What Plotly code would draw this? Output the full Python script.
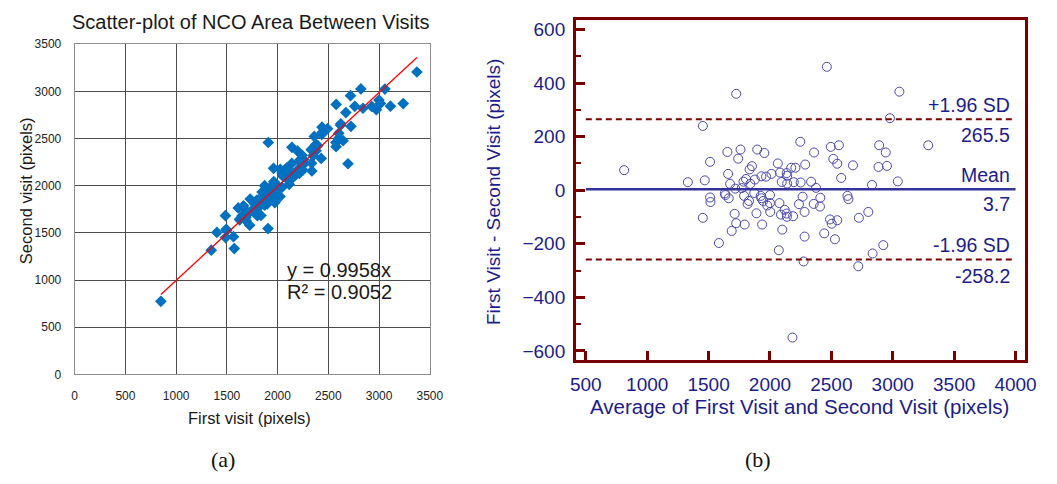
import plotly.graph_objects as go

# Bland-Altman points: average of the two visits, and difference
ba_average = [812, 1331, 1453, 1469, 1453, 1512, 1512, 1515, 1584, 1632,
              1637, 1653, 1659, 1664, 1675, 1688, 1712, 1717, 1725, 1725,
              1741, 1760, 1770, 1784, 1789, 1794, 1805, 1818, 1829, 1834,
              1840, 1853, 1872, 1877, 1890, 1896, 1925, 1930, 1930, 1936,
              1944, 1954, 1968, 1978, 2000, 2000, 2002, 2012, 2064, 2072,
              2077, 2082, 2090, 2096, 2100, 2120, 2136, 2136, 2138, 2140,
              2140, 2173, 2183, 2188, 2194, 2207, 2236, 2247, 2250, 2266,
              2274, 2282, 2282, 2287, 2335, 2356, 2359, 2375, 2407, 2410,
              2442, 2463, 2489, 2495, 2503, 2516, 2529, 2548, 2548, 2561,
              2580, 2631, 2639, 2676, 2719, 2724, 2801, 2831, 2836, 2884,
              2889, 2923, 2943, 2953, 2977, 3041, 3054, 3289]
ba_difference = [75, 30, 240, 37, -103, 106, -27, -44, -197, -12,
                 -18, 143, 61, -30, 24, -152, -88, 6, 360, -123,
                 118, 152, 8, 32, -21, -128, 42, -51, -40, 78,
                 24, 90, -10, 40, -86, 152, -21, 52, -30, -128,
                 -40, 139, 51, -57, -18, -48, -81, 61, 100, -224,
                 -48, 66, -91, 31, -147, -73, 64, -87, -99, 25,
                 54, 84, -550, -97, 30, 84, -52, 181, 29, -24,
                 -266, -81, -173, 96, 32, -51, 141, 9, -61, -28,
                 -161, 461, -109, 162, -125, 117, -183, 99, -112, 168,
                 46, -21, -33, 93, -284, -103, -81, 20, -236, 87,
                 168, -205, 141, 91, 269, 33, 368, 168]

# Same measurements shown as first visit vs second visit in panel (a)
first_visit = [a + d / 2 for a, d in zip(ba_average, ba_difference)]
second_visit = [a - d / 2 for a, d in zip(ba_average, ba_difference)]

trend_slope = 0.9958
trend_r2 = 0.9052
mean_diff = 3.7
upper_loa = 265.5
lower_loa = -258.2

left_ticks = [0, 500, 1000, 1500, 2000, 2500, 3000, 3500]
right_xticks = [500, 1000, 1500, 2000, 2500, 3000, 3500, 4000]
right_yticks = [-600, -400, -200, 0, 200, 400, 600]

W, H = 1057, 484


def px(x):
    return x / W


def py(y):
    return 1 - y / H


SANS = "Liberation Sans, Arial, sans-serif"
NAVY = "#1c1c8a"
DARKRED = "#7a0000"

fig = go.Figure()

# ---------- panel (a) ----------
fig.add_trace(go.Scatter(
    x=first_visit, y=second_visit, mode="markers",
    marker=dict(symbol="diamond", size=9, color="#0070C0"),
    xaxis="x", yaxis="y", showlegend=False, hoverinfo="x+y"))
trend_x = [min(first_visit), max(first_visit)]
fig.add_trace(go.Scatter(
    x=trend_x, y=[trend_slope * v for v in trend_x], mode="lines",
    line=dict(color="#ff0000", width=1.3),
    xaxis="x", yaxis="y", showlegend=False))

# ---------- panel (b) ----------
fig.add_trace(go.Scatter(
    x=ba_average, y=ba_difference, mode="markers",
    marker=dict(symbol="circle-open", size=9, color="#4a4aae", line=dict(width=1)),
    xaxis="x2", yaxis="y2", showlegend=False))
line_x = [right_xticks[0], right_xticks[-1]]
fig.add_trace(go.Scatter(
    x=line_x, y=[upper_loa, upper_loa], mode="lines",
    line=dict(color=DARKRED, width=2, dash="6px,4px"),
    xaxis="x2", yaxis="y2", showlegend=False))
fig.add_trace(go.Scatter(
    x=line_x, y=[lower_loa, lower_loa], mode="lines",
    line=dict(color=DARKRED, width=2, dash="6px,4px"),
    xaxis="x2", yaxis="y2", showlegend=False))
fig.add_trace(go.Scatter(
    x=line_x, y=[mean_diff, mean_diff], mode="lines",
    line=dict(color="#333399", width=2.5),
    xaxis="x2", yaxis="y2", showlegend=False))

left_tickfont = dict(family=SANS, size=12, color="#222")
right_tickfont = dict(family=SANS, size=19, color=NAVY)

fig.update_layout(
    width=W, height=H,
    margin=dict(l=0, r=0, t=0, b=0),
    paper_bgcolor="white", plot_bgcolor="white",
    xaxis=dict(
        domain=[px(70), px(432)], range=[0, 3500], tickvals=left_ticks,
        showgrid=True, gridcolor="#4d4d4d", gridwidth=1, zeroline=False,
        showline=True, linecolor="#8c8c8c", linewidth=1, mirror=True,
        ticks="", tickfont=left_tickfont, ticklabelstandoff=10,
        anchor="y"),
    yaxis=dict(
        domain=[py(378.3), py(38.3)], range=[0, 3500], tickvals=left_ticks,
        showgrid=True, gridcolor="#4d4d4d", gridwidth=1, zeroline=False,
        showline=True, linecolor="#8c8c8c", linewidth=1, mirror=True,
        ticks="", tickfont=left_tickfont, ticklabelstandoff=10,
        anchor="x"),
    xaxis2=dict(
        domain=[px(581), px(1039)], range=[420, 4080], tickvals=right_xticks,
        showgrid=False, zeroline=False,
        showline=True, linecolor=DARKRED, linewidth=3, mirror=True,
        ticks="inside", ticklen=9, tickwidth=2.5, tickcolor=DARKRED,
        tickfont=right_tickfont, ticklabelstandoff=6,
        anchor="y2"),
    yaxis2=dict(
        domain=[py(363), py(13.3)], range=[-632, 636], tickvals=right_yticks,
        showgrid=False, zeroline=False,
        showline=True, linecolor=DARKRED, linewidth=3, mirror=True,
        ticks="inside", ticklen=9, tickwidth=2.5, tickcolor=DARKRED,
        minor=dict(dtick=100, ticks="inside", ticklen=5, tickwidth=2, tickcolor=DARKRED),
        tickfont=right_tickfont, ticklabelstandoff=4,
        anchor="x2"),
)

annotations = [
    # panel (a)
    dict(x=px(249.5), y=py(15), text="Scatter-plot of NCO Area Between Visits",
         font=dict(family=SANS, size=20, color="#1a1a1a")),
    dict(x=px(248.5), y=py(423), text="First visit (pixels)",
         font=dict(family=SANS, size=16.5, color="#1a1a1a")),
    dict(x=px(20), y=py(189), text="Second visit (pixels)", textangle=-90,
         font=dict(family=SANS, size=16.5, color="#1a1a1a")),
    dict(x=px(284), y=py(271), text=f"y = {trend_slope}x", xanchor="left",
         font=dict(family=SANS, size=20, color="#1a1a1a")),
    dict(x=px(284), y=py(293), text=f"R² = {trend_r2}", xanchor="left",
         font=dict(family=SANS, size=20, color="#1a1a1a")),
    dict(x=px(221), y=py(466), text="(a)",
         font=dict(family="Liberation Serif, serif", size=22, color="#111")),
    # panel (b)
    dict(x=px(497), y=py(191), text="First Visit - Second Visit (pixels)", textangle=-90,
         font=dict(family=SANS, size=19, color=NAVY)),
    dict(x=px(809), y=py(411), text="Average of First Visit and Second Visit (pixels)",
         font=dict(family=SANS, size=20.5, color=NAVY)),
    dict(x=px(1025), y=py(101), text="+1.96 SD", xanchor="right",
         font=dict(family=SANS, size=19.5, color=NAVY)),
    dict(x=px(1025), y=py(132), text=f"{upper_loa}", xanchor="right",
         font=dict(family=SANS, size=19.5, color=NAVY)),
    dict(x=px(1025), y=py(173), text="Mean", xanchor="right",
         font=dict(family=SANS, size=19.5, color=NAVY)),
    dict(x=px(1025), y=py(203), text=f"{mean_diff}", xanchor="right",
         font=dict(family=SANS, size=19.5, color=NAVY)),
    dict(x=px(1025), y=py(245), text="-1.96 SD", xanchor="right",
         font=dict(family=SANS, size=19.5, color=NAVY)),
    dict(x=px(1025), y=py(277), text=f"{lower_loa}", xanchor="right",
         font=dict(family=SANS, size=19.5, color=NAVY)),
    dict(x=px(767), y=py(466), text="(b)",
         font=dict(family="Liberation Serif, serif", size=22, color="#111")),
]
for a in annotations:
    a.setdefault("xref", "paper")
    a.setdefault("yref", "paper")
    a.setdefault("showarrow", False)
    a.setdefault("xanchor", "center")
    a.setdefault("yanchor", "middle")
fig.update_layout(annotations=annotations)

fig.write_html("out.html")
